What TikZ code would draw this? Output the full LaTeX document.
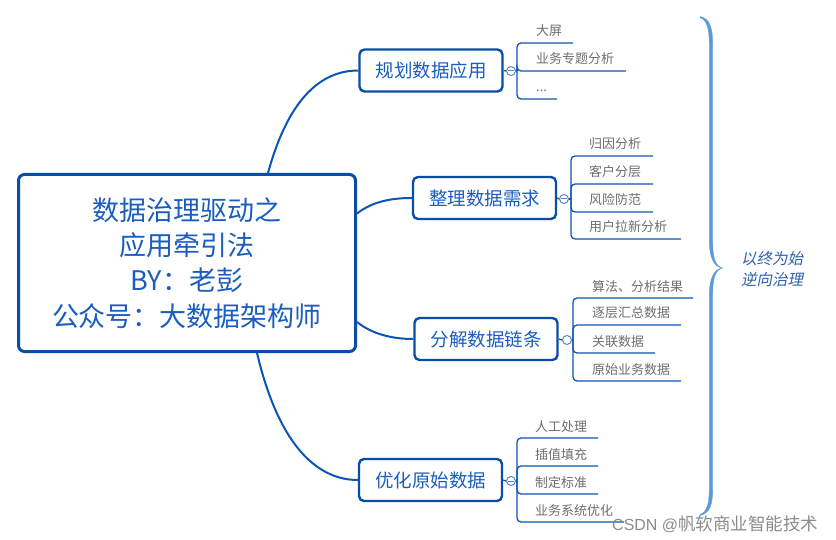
\documentclass[tikz,border=0pt]{standalone}
\usepackage{fontspec}
\setmainfont{Noto Sans CJK SC}
\newfontfamily\slantcjk[FakeSlant=0.2]{Noto Sans CJK SC}
\newfontfamily\wmlatin{Liberation Sans}
\usetikzlibrary{calc}
\newcommand\leafdots{...}
\definecolor{boxline}{HTML}{0A4DA6}
\definecolor{maintext}{HTML}{1A5DBF}
\definecolor{conn}{HTML}{0D55B2}
\definecolor{childtext}{HTML}{6E6E6E}
\definecolor{bracecol}{HTML}{5B9BD5}
\definecolor{circcol}{HTML}{5A87C8}
\definecolor{notetext}{HTML}{2F62AE}
\definecolor{wm}{HTML}{8C8C8C}
\begin{document}
\begin{tikzpicture}[x=1pt,y=-1pt,
 centralbox/.style={draw=boxline, line width=3pt, rounded corners=6pt, fill=white, minimum width=337pt, minimum height=177pt, align=center, text=maintext, font=\fontsize{27}{35.3}\selectfont, inner sep=0pt},
 branchbox/.style={draw=boxline, line width=2.4pt, rounded corners=5pt, fill=white, minimum width=143pt, minimum height=42pt, text=maintext, font=\fontsize{18.5}{22}\selectfont, inner sep=0pt},
 mainconn/.style={draw=conn, line width=2pt},
 childconn/.style={draw=conn, line width=1.3pt},
 leaf/.style={text=childtext, font=\fontsize{13}{15}\selectfont, inner sep=0pt, anchor=base west},
 foldmark/.style={circle, draw=circcol, fill=white, line width=1pt, minimum size=9pt, inner sep=0pt},
 minusmark/.style={draw=circcol, line width=1pt},
 bracefill/.style={fill=bracecol, draw=bracecol, line width=0.3pt},
]
\useasboundingbox[fill=white] (0,0) rectangle (836,540);

% central node
\node[centralbox] (c) at (187,263) {数据治理驱动之\\应用牵引法\\BY：老彭\\公众号：大数据架构师};

% branch nodes
\node[branchbox] (b1) at (431,70.5) {规划数据应用};
\node[branchbox] (b2) at (484.5,198) {整理数据需求};
\node[branchbox] (b3) at (486,339) {分解数据链条};
\node[branchbox] (b4) at (430.5,480) {优化原始数据};

% main connectors
\draw[mainconn] ([xshift=251pt]c.north west) .. controls (288,100) and (320,70.5) .. (b1.west);
\draw[mainconn] ([yshift=49.5pt]c.east) .. controls (372,202) and (390,198) .. (b2.west);
\draw[mainconn] ([yshift=-59pt]c.east) .. controls (372,334) and (392,339) .. (b3.west);
\draw[mainconn] ([xshift=240pt]c.south west) .. controls (280,450) and (320,480) .. (b4.west);

% fold marks
\node[foldmark] (o1) at (511,71) {};
\node[foldmark] (o2) at (564,199) {};
\node[foldmark] (o3) at (567,340) {};
\node[foldmark] (o4) at (511,481) {};
\draw[childconn] (b1.east) -- (o1.west);
\draw[childconn] (b2.east) -- (o2.west);
\draw[childconn] (b3.east) -- (o3.west);
\draw[childconn] (b4.east) -- (o4.west);

% branch 1 children
\coordinate (v1) at (517,71);
\draw[childconn] (o1.east) -- (v1);
\foreach \i/\yy/\xe/\txt in {1/43/573/大屏, 2/71/626/业务专题分析, 3/99/557/\leafdots} {
  \node[leaf] (l1\i) at (536,\yy-7) {\txt};
  \coordinate (e1\i) at (\xe,\yy);
  \draw[childconn, rounded corners=4pt] (v1) -- (517,\yy) -- (e1\i);
}
% branch 2 children
\coordinate (v2) at (571,199);
\draw[childconn] (o2.east) -- (v2);
\foreach \i/\yy/\xe/\txt in {1/156/653/归因分析, 2/184/653/客户分层, 3/212/653/风险防范, 4/239/681/用户拉新分析} {
  \node[leaf] (l2\i) at (589,\yy-7) {\txt};
  \coordinate (e2\i) at (\xe,\yy);
  \draw[childconn, rounded corners=4pt] (v2) -- (571,\yy) -- (e2\i);
}
% branch 3 children
\coordinate (v3) at (573,340);
\draw[childconn] (o3.east) -- (v3);
\foreach \i/\yy/\xe/\txt in {1/298/693/算法、分析结果, 2/325/681/逐层汇总数据, 3/353/655/关联数据, 4/381/681/原始业务数据} {
  \node[leaf] (l3\i) at (592,\yy-7) {\txt};
  \coordinate (e3\i) at (\xe,\yy);
  \draw[childconn, rounded corners=4pt] (v3) -- (573,\yy) -- (e3\i);
}
% branch 4 children
\coordinate (v4) at (517,481);
\draw[childconn] (o4.east) -- (v4);
\foreach \i/\yy/\xe/\txt in {1/438/598/人工处理, 2/466/598/插值填充, 3/494/598/制定标准, 4/522/624/业务系统优化} {
  \node[leaf] (l4\i) at (535,\yy-7) {\txt};
  \coordinate (e4\i) at (\xe,\yy);
  \draw[childconn, rounded corners=4pt] (v4) -- (517,\yy) -- (e4\i);
}

% minus signs in fold marks (not in o3)
\foreach \o in {o1,o2,o4} {
  \draw[minusmark] ([xshift=-2.6pt]\o.center) -- ([xshift=2.6pt]\o.center);
}

% brace (tapered, filled)
\path[bracefill]
  (700,16.5) .. controls (710,18.5) and (712.7,28) .. (712.7,45) -- (712.7,240)
  .. controls (712.7,258) and (715,266) .. (722.5,268)
  .. controls (714,267) and (709.3,258) .. (709.3,240) -- (709.3,45)
  .. controls (709.3,29) and (707,20) .. (700,17.5) -- cycle;
\path[bracefill]
  (722.5,268) .. controls (715,270) and (712.7,278) .. (712.7,296) -- (712.7,488)
  .. controls (712.7,505) and (710,513) .. (700,515.5)
  -- (700,514.5) .. controls (707,512) and (709.3,503) .. (709.3,488) -- (709.3,296)
  .. controls (709.3,278) and (714,269) .. (722.5,268) -- cycle;

% note
\node[text=notetext, font=\slantcjk\fontsize{15.5}{20.5}\selectfont, align=left, anchor=west, inner sep=0pt] (note) at (741,269) {以终为始\\逆向治理};

% watermark
\node[text=wm, font=\fontsize{17.5}{19}\selectfont, anchor=west, inner sep=0pt] (wmk) at (612,524) {{\wmlatin\fontsize{16}{19}\selectfont CSDN @}帆软商业智能技术};
\end{tikzpicture}
\end{document}
